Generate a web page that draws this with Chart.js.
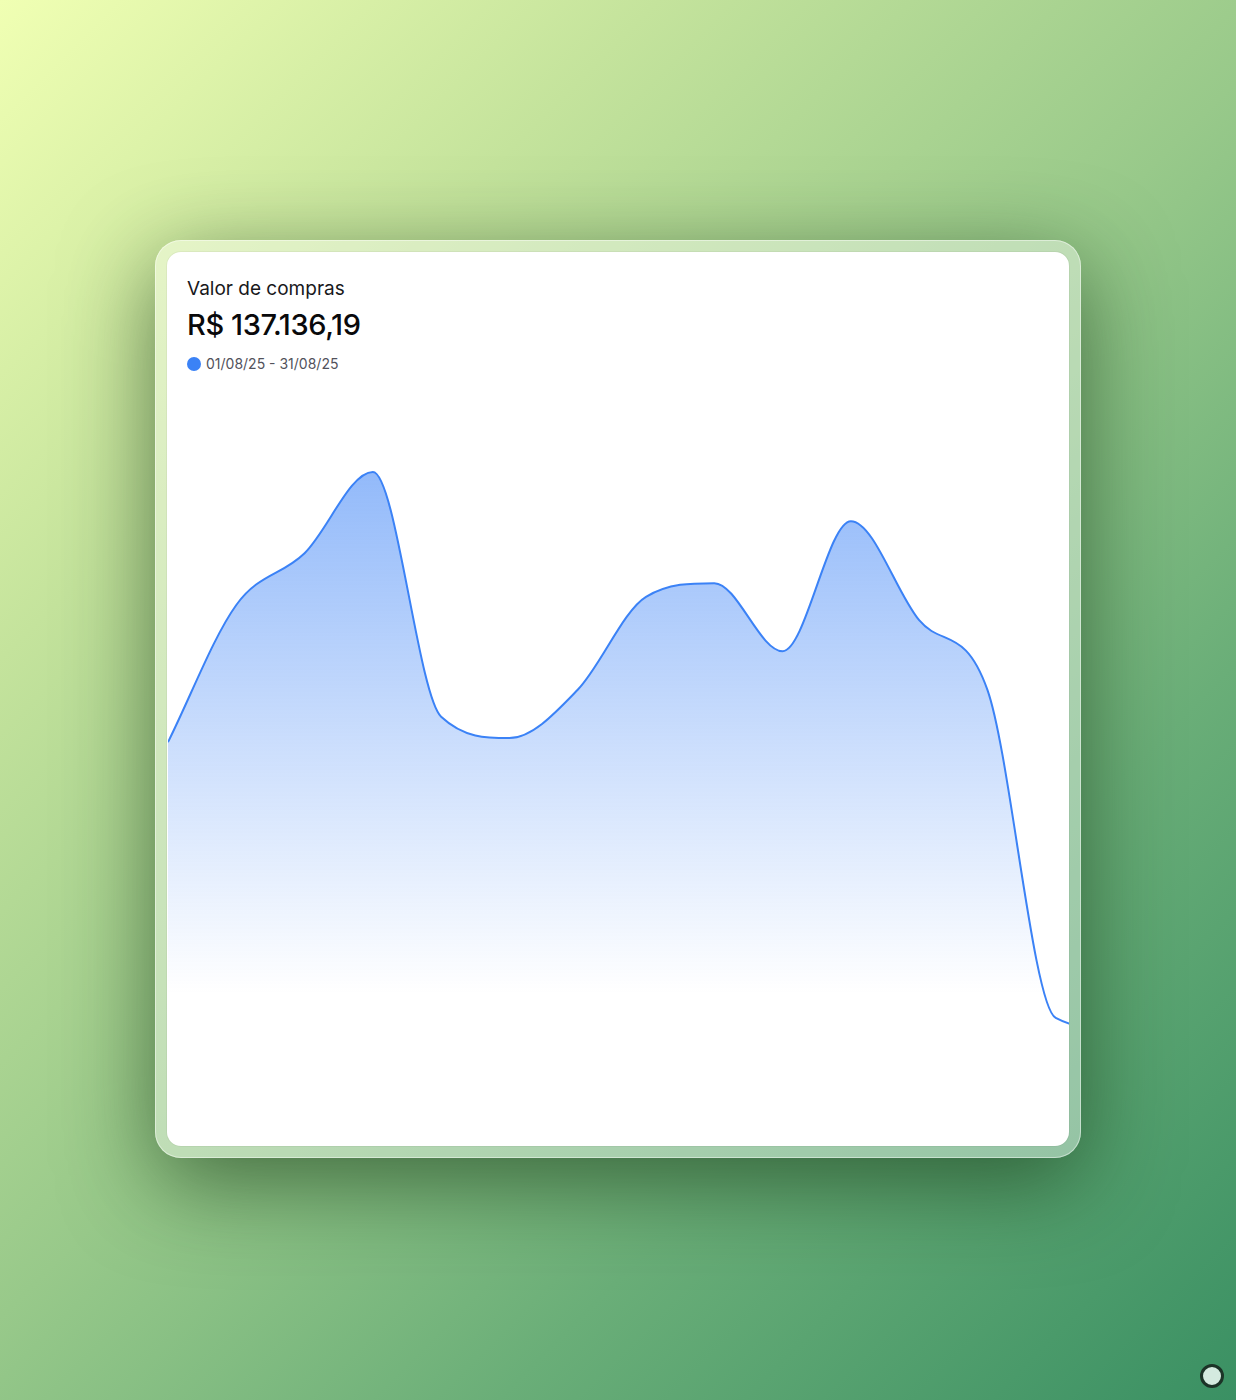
<!DOCTYPE html>
<html>
<head>
<meta charset="utf-8">
<script src="https://cdn.jsdelivr.net/npm/chart.js@4.4.1/dist/chart.umd.min.js"></script>
<style>
  html, body { margin: 0; padding: 0; }
  body {
    width: 1236px; height: 1400px; position: relative; overflow: hidden;
    background: linear-gradient(135deg, #f0ffb3 0%, #c4e39c 25%, #98c98a 50%, #6aae78 72%, #3a9063 100%);
    font-family: Inter, "Noto Sans", sans-serif;
  }
  .frame {
    position: absolute; left: 155px; top: 240px; width: 926px; height: 918px;
    border-radius: 26px;
    background: rgba(255,255,255,0.38);
    box-shadow: 0 24px 90px rgba(25,60,25,0.65), inset 0 0 0 1px rgba(255,255,255,0.45);
  }
  .card {
    position: absolute; left: 167px; top: 252px; width: 902px; height: 894px;
    border-radius: 14px; background: #fff; overflow: hidden;
    box-shadow: 0 0 0 1px rgba(0,0,0,0.04);
  }
  .title { position: absolute; left: 20px; top: 25px; font-size: 19px; color: #18181b; }
  .value { position: absolute; left: 20px; top: 55px; font-size: 29px; font-weight: 500; color: #09090b; letter-spacing: -0.4px; }
  .legend { position: absolute; left: 20px; top: 103px; font-size: 14px; color: #52525b; display: flex; align-items: center; }
  .dot { width: 14px; height: 14px; border-radius: 50%; background: #3b82f6; margin-right: 5px; }
  .chartbox { position: absolute; left: 1px; top: 132px; width: 956px; height: 762px; }
  .knob { position: absolute; left: 1200px; top: 1364px; width: 18px; height: 18px; border-radius: 50%; background: #d4eadf; border: 3px solid #1c3327; }
</style>
</head>
<body>
<div class="frame"></div>
<div class="card">
  <div class="title">Valor de compras</div>
  <div class="value">R$ 137.136,19</div>
  <div class="legend"><span class="dot"></span>01/08/25 - 31/08/25</div>
  <div class="chartbox"><canvas id="c" width="956" height="762"></canvas></div>
</div>
<div class="knob"></div>
<script>
const labels = ["01/08","03/08","05/08","07/08","09/08","11/08","13/08","15/08","17/08","19/08","21/08","23/08","25/08","27/08","29/08"];
const compras = [7950, 10650, 11670, 13270, 8450, 8030, 8980, 10810, 11080, 9740, 12300, 10350, 8980, 2520, 2280];
const yMin = 0;
const yMax = 15000;

const ctx = document.getElementById('c').getContext('2d');
new Chart(ctx, {
  type: 'line',
  data: {
    labels: labels,
    datasets: [{
      label: 'Valor de compras',
      data: compras,
      borderColor: '#3b82f6',
      borderWidth: 2,
      pointRadius: 0,
      cubicInterpolationMode: 'monotone',
      fill: 'origin',
      backgroundColor: function(context) {
        const chart = context.chart;
        const area = chart.chartArea;
        if (!area) return 'rgba(59,130,246,0.5)';
        const g = chart.ctx.createLinearGradient(0, area.top, 0, area.bottom);
        g.addColorStop(0, 'rgba(59,130,246,0.62)');
        g.addColorStop(0.12, 'rgba(59,130,246,0.55)');
        g.addColorStop(0.80, 'rgba(59,130,246,0.0)');
        g.addColorStop(1, 'rgba(59,130,246,0.0)');
        return g;
      }
    }]
  },
  options: {
    responsive: false,
    animation: false,
    layout: { padding: 0 },
    plugins: { legend: { display: false }, tooltip: { enabled: false } },
    scales: {
      x: { display: false },
      y: { display: false, min: yMin, max: yMax }
    }
  }
});
</script>
</body>
</html>
